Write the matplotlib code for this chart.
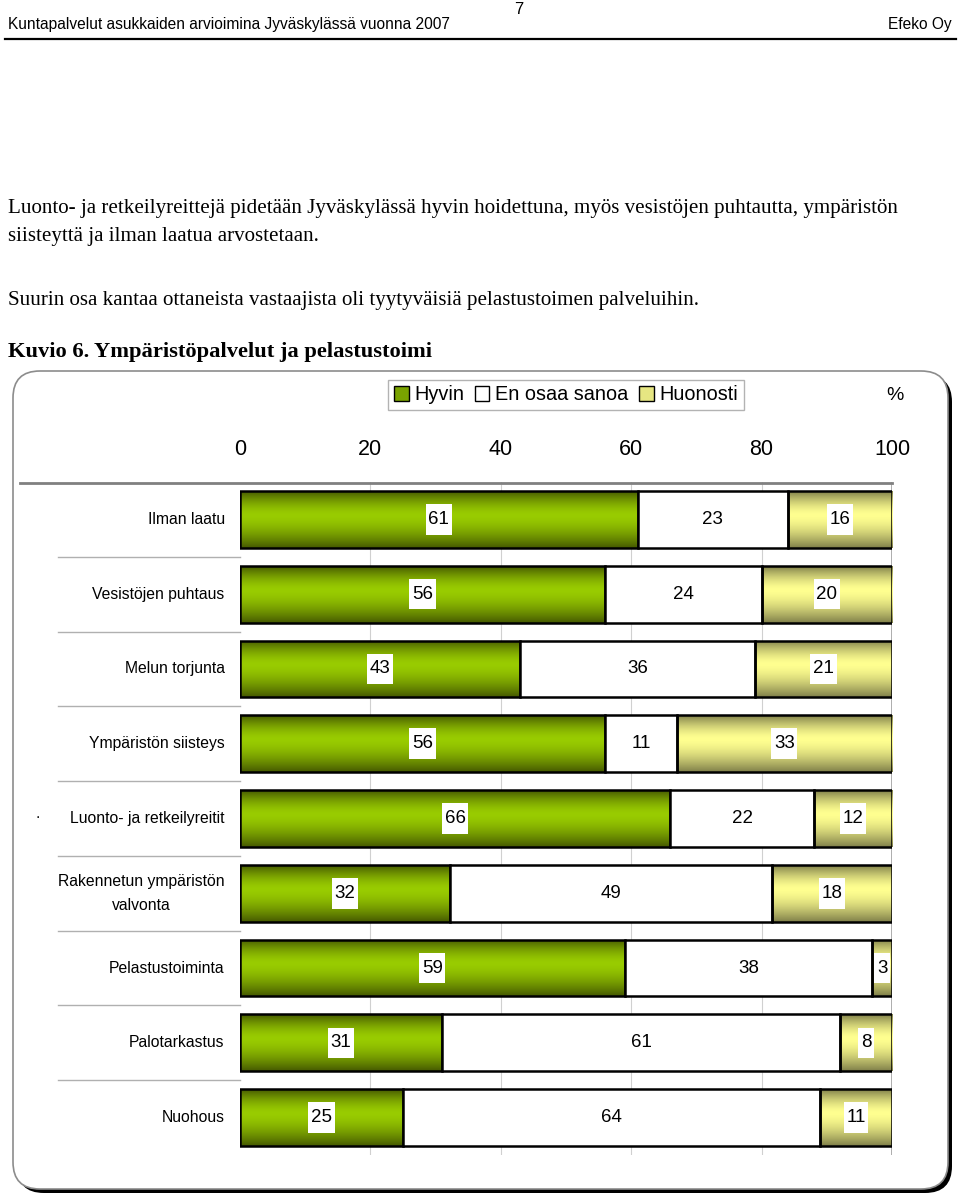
import numpy as np
import matplotlib

matplotlib.use("Agg")

import matplotlib.pyplot as plt  # noqa: E402
from matplotlib.patches import FancyBboxPatch, Patch  # noqa: E402
from matplotlib.lines import Line2D  # noqa: E402
from matplotlib.path import Path  # noqa: E402

# Data (Rakennetun row; labels are rounded)
categories = [
    "Ilman laatu",
    "Vesistöjen puhtaus",
    "Melun torjunta",
    "Ympäristön siisteys",
    "Luonto- ja retkeilyreitit",
    "Rakennetun ympäristön\nvalvonta",
    "Pelastustoiminta",
    "Palotarkastus",
    "Nuohous",
]
hyvin = [61, 56, 43, 56, 66, 32.2, 59, 31, 25]
en_osaa = [23, 24, 36, 11, 22, 49.4, 38, 61, 64]
huonosti = [16, 20, 21, 33, 12, 18.4, 3, 8, 11]
series_names = ["Hyvin", "En osaa sanoa", "Huonosti"]
xticks = [0, 20, 40, 60, 80, 100]

header_left = "Kuntapalvelut asukkaiden arvioimina Jyväskylässä vuonna 2007"
header_right = "Efeko Oy"
page_no = "7"
para1 = [
    "Luonto- ja retkeilyreittejä pidetään Jyväskylässä hyvin hoidettuna, "
    "myös vesistöjen puhtautta, ympäristön",
    "siisteyttä ja ilman laatua arvostetaan.",
]
para2 = "Suurin osa kantaa ottaneista vastaajista oli tyytyväisiä pelastustoimen palveluihin."
caption = "Kuvio 6. Ympäristöpalvelut ja pelastustoimi"

W, H = 960, 1197
SANS = ["Liberation Sans", "DejaVu Sans"]
SERIF = ["Liberation Serif", "DejaVu Serif"]

GREEN_DARK = np.array([0x46, 0x5a, 0x00]) / 255
GREEN_BRIGHT = np.array([0x99, 0xcc, 0x00]) / 255
KHAKI_DARK = np.array([0x80, 0x80, 0x4a]) / 255
KHAKI_BRIGHT = np.array([0xff, 0xff, 0x90]) / 255


def fx(px):
    return px / W


def fy(py):
    return 1 - py / H


def gradient(dark, bright, n=80):
    t = np.linspace(0, 1, n)
    s = 1 - np.abs((t - 0.42) / np.where(t < 0.42, 0.42, 0.58)) ** 1.6
    return (dark[None, :] + (bright - dark)[None, :] * s[:, None])[:, None, :]


def tall_box(x0, y0, width, height, mutation_size):
    # narrow horizontally, roomy vertically, like the Excel label boxes
    px, py = 0.14 * mutation_size, 0.36 * mutation_size
    x0, x1 = x0 - px, x0 + width + px
    y0, y1 = y0 - py, y0 + height + py
    return Path([(x0, y0), (x1, y0), (x1, y1), (x0, y1), (x0, y0)], closed=True)


fig = plt.figure(figsize=(W / 100, H / 100), dpi=100)
fig.patch.set_facecolor("white")

# Page header
fig.text(fx(8), fy(25), header_left, family=SANS, fontsize=11.2, va="center")
fig.text(fx(952), fy(25), header_right, family=SANS, fontsize=11.2,
         va="center", ha="right")
fig.text(fx(519), fy(10), page_no, family=SANS, fontsize=12, va="center",
         ha="center")
fig.add_artist(Line2D([fx(5), fx(956)], [fy(39), fy(39)], color="black",
                      linewidth=1.6, transform=fig.transFigure))

# Body text
for k, line in enumerate(para1):
    fig.text(fx(8), fy(209 + 27 * k), line, family=SERIF, fontsize=15.1,
             va="center")
fig.text(fx(8), fy(301), para2, family=SERIF, fontsize=15.1, va="center")
fig.text(fx(8), fy(352), caption, family=SERIF, fontsize=16.2, va="center",
         fontweight="bold")

# Chart frame with shadow
shadow = FancyBboxPatch((fx(17), fy(1193)), fx(935), fy(375) - fy(1193),
                        boxstyle="round,pad=0,rounding_size=0.028",
                        transform=fig.transFigure, facecolor="black",
                        edgecolor="black", linewidth=0, mutation_aspect=W / H,
                        zorder=-3)
fig.add_artist(shadow)
frame = FancyBboxPatch((fx(13), fy(1189)), fx(935), fy(371) - fy(1189),
                       boxstyle="round,pad=0,rounding_size=0.028",
                       transform=fig.transFigure, facecolor="white",
                       edgecolor="#8c8c8c", linewidth=1.2, mutation_aspect=W / H,
                       zorder=-2)
fig.add_artist(frame)

# Plot area
ax = fig.add_axes([fx(240), fy(1155), fx(892) - fx(240), fy(482) - fy(1155)])
ax.set_facecolor("white")
n = len(categories)
y = np.arange(n)
bar_h = 0.76

for xv in xticks[1:-1]:
    ax.axvline(xv, color="#d0d0d0", linewidth=0.8, zorder=0)
ax.axvline(100, color="#a0a0a0", linewidth=1.2, zorder=0)

left = np.zeros(n)
segments = [
    (hyvin, gradient(GREEN_DARK, GREEN_BRIGHT), True),
    (en_osaa, None, False),
    (huonosti, gradient(KHAKI_DARK, KHAKI_BRIGHT), True),
]
for vals, grad, boxed in segments:
    vals = np.array(vals, dtype=float)
    bars = ax.barh(y, vals, left=left, height=bar_h,
                   color="white" if grad is None else "none",
                   edgecolor="black", linewidth=1.8, zorder=3)
    for bar, v in zip(bars, vals):
        x0, y0 = bar.get_x(), bar.get_y()
        w, h = bar.get_width(), bar.get_height()
        if grad is not None:
            im = ax.imshow(grad, extent=[x0, x0 + w, y0 + h, y0],
                           aspect="auto", zorder=2, interpolation="bilinear")
            im.set_clip_path(bar)
        bbox = dict(boxstyle=tall_box, facecolor="white", edgecolor="none") if boxed else None
        ax.text(x0 + w / 2, y0 + h / 2, f"{round(v)}", ha="center", va="center",
                family=SANS, fontsize=13.5, zorder=5, bbox=bbox)
    left += vals

ax.set_xlim(0, 100)
ax.set_ylim(n - 0.5, -0.5)
ax.set_xticks(xticks)
ax.xaxis.tick_top()
ax.tick_params(axis="x", length=0, pad=16, labelsize=15.5)
for lbl in ax.get_xticklabels():
    lbl.set_family(SANS)
ax.set_yticks([])
for spine in ax.spines.values():
    spine.set_visible(False)

# Category labels and separators
for i, cat in enumerate(categories):
    ax.annotate(cat, (0, i), xycoords="data", xytext=(-11, 0),
                textcoords="offset points", ha="right", va="center",
                multialignment="center", family=SANS, fontsize=11.3,
                linespacing=1.75)
row_px = (1155 - 482) / n
for i in range(1, n):
    yy = fy(482 + i * row_px)
    fig.add_artist(Line2D([fx(58), fx(240)], [yy, yy], color="#b0b0b0",
                          linewidth=1.0, transform=fig.transFigure))
fig.add_artist(Line2D([fx(20), fx(892)], [fy(483), fy(483)], color="#808080",
                      linewidth=2.0, transform=fig.transFigure, zorder=4))
fig.text(fx(38), fy(818), "·", fontsize=10, ha="center", va="center")

# Legend
handles = [
    Patch(facecolor=GREEN_BRIGHT * 0.8, edgecolor="black"),
    Patch(facecolor="white", edgecolor="black"),
    Patch(facecolor=KHAKI_BRIGHT * 0.9, edgecolor="black"),
]
leg = fig.legend(handles, series_names, loc="center",
                 bbox_to_anchor=(fx(566), fy(395)), ncol=3,
                 prop={"family": "Liberation Sans", "size": 14.3},
                 frameon=True, fancybox=False, handlelength=0.75,
                 handleheight=0.75, handletextpad=0.3, columnspacing=0.5,
                 borderpad=0.3, borderaxespad=0)
leg.get_frame().set_edgecolor("#a0a0a0")
leg.get_frame().set_linewidth(1.0)
fig.text(fx(895), fy(396), "%", family=SANS, fontsize=14, ha="center",
         va="center")

fig.savefig("out.png", dpi=100, facecolor="white")
